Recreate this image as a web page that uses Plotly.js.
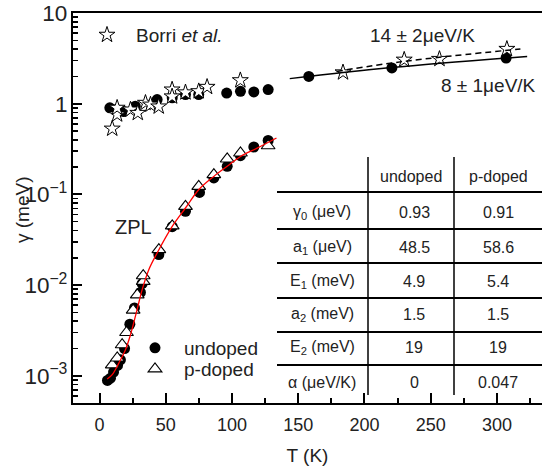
<!DOCTYPE html>
<html><head><meta charset="utf-8">
<script src="https://cdn.plot.ly/plotly-3.0.1.min.js"></script>
<style>body{margin:0;background:#fff}#c{width:542px;height:474px}</style>
</head><body><div id="c"></div>
<script>
// Borri et al. (open stars)
var borriT = [9.6, 13.3, 13.3, 23.4, 28.9, 34.7, 38.5, 44.7, 54.8, 54.8, 64.9, 74.9, 81.2, 106.3, 183.8, 230, 256.6, 307.5];
var borriG = [0.53, 0.76, 0.90, 0.86, 0.79, 1.02, 0.975, 0.93, 1.43, 1.20, 1.33, 1.37, 1.53, 1.81, 2.21, 3.05, 3.11, 4.01];
// undoped broad band (filled circles)
var broadT = [7.8, 12, 18.3, 27, 43.5, 54.9, 64.9, 74.9, 96, 106.4, 116.5, 127.3, 158, 220.7, 306.9];
var broadG = [0.90, 0.86, 0.82, 0.94, 1.11, 1.16, 1.26, 1.26, 1.31, 1.37, 1.35, 1.43, 2.0, 2.48, 3.19];
// ZPL undoped (filled circles)
var zplUT = [6, 8.3, 10.6, 13.6, 15.8, 18.9, 22.9, 26.4, 30.9, 32.2, 44.8, 54.9, 64.9, 75.5, 86.3, 96.4, 106.4, 116.5, 127.3];
var zplUG = [0.00089, 0.00094, 0.0011, 0.0013, 0.0015, 0.0020, 0.0037, 0.0056, 0.0083, 0.0104, 0.0217, 0.044, 0.065, 0.105, 0.152, 0.204, 0.267, 0.333, 0.394];
// ZPL p-doped (open triangles)
var zplPT = [9.6, 13.4, 17.1, 20.4, 25.4, 28.5, 33, 33, 44.8, 54.9, 64.9, 74.9, 86.3, 96.4, 106.4, 127.3];
var zplPG = [0.00132, 0.00157, 0.0022, 0.0030, 0.0053, 0.0078, 0.011, 0.0127, 0.0246, 0.045, 0.0738, 0.1225, 0.165, 0.246, 0.286, 0.344];
// ZPL fit curve (red)
var fitT = [5.8, 9.6, 14.6, 19.6, 23.4, 28, 32.2, 37.2, 43.5, 54.9, 64.9, 74.9, 86.3, 96.4, 106.4, 119, 133.6];
var fitG = [0.00092, 0.00103, 0.00138, 0.00194, 0.00284, 0.0051, 0.0089, 0.0148, 0.0226, 0.0444, 0.0708, 0.1127, 0.158, 0.204, 0.262, 0.324, 0.419];
// linear fits at high T
var fitSolidT = [143.6, 220, 322.8];
var fitSolidG = [1.89, 2.50, 3.32];
var fitDashT = [179, 230, 317.7];
var fitDashG = [2.27, 2.93, 4.01];
// table
var tableHeader = ['undoped', 'p-doped'];
var rowLabels = ['γ<sub>0</sub> (μeV)', 'a<sub>1</sub> (μeV)', 'E<sub>1</sub> (meV)', 'a<sub>2</sub> (meV)', 'E<sub>2</sub> (meV)', 'α (μeV/K)'];
var undopedVals = ['0.93', '48.5', '4.9', '1.5', '19', '0'];
var pdopedVals = ['0.91', '58.6', '5.4', '1.5', '19', '0.047'];

var W = 542, H = 474, mL = 73, mR = 0, mT = 13, mB = 71;
var pw = W - mL - mR, ph = H - mT - mB;
function px(x) { return (x - mL) / pw; }
function py(y) { return (H - mB - y) / ph; }

var FONT = 'Liberation Sans, Arial, sans-serif';
var TXT = '#222';

var traces = [
  {x: broadT.concat(zplUT), y: broadG.concat(zplUG), mode: 'markers', type: 'scatter', name: 'undoped',
   marker: {symbol: 'circle', size: 11, color: '#000'}, legend: 'legend2'},
  {x: zplPT, y: zplPG, mode: 'markers', type: 'scatter', name: 'p-doped',
   marker: {symbol: 'triangle-up', size: 12, color: '#fff', line: {color: '#000', width: 1.1}}, legend: 'legend3'},
  {x: borriT, y: borriG, mode: 'markers', type: 'scatter', name: 'Borri <i>et al.</i>',
   marker: {symbol: 'star', size: 12, color: '#fff', line: {color: '#000', width: 1}}, legend: 'legend'},
  {x: fitSolidT, y: fitSolidG, mode: 'lines', type: 'scatter', showlegend: false,
   line: {color: '#000', width: 1.5, shape: 'spline'}},
  {x: fitDashT, y: fitDashG, mode: 'lines', type: 'scatter', showlegend: false,
   line: {color: '#000', width: 1.5, dash: '6px,4px', shape: 'spline'}},
  {x: fitT, y: fitG, mode: 'lines', type: 'scatter', showlegend: false,
   line: {color: '#ff0000', width: 1.3, shape: 'spline'}}
];

var shapes = [];
var annotations = [];
// table geometry (pixels)
var tLeft = 277, tRight = 542, col1 = 368, col2 = 454, vTop = 157, vBot = 395;
var hLines = [192, 229, 263, 298, 332, 365];
var rowY = [213, 247, 281, 314, 347, 382];
var headY = 177;
hLines.forEach(function (y) {
  shapes.push({type: 'line', xref: 'paper', yref: 'paper', x0: px(tLeft), x1: px(tRight), y0: py(y), y1: py(y),
    line: {color: '#000', width: 2}});
});
[col1, col2].forEach(function (x) {
  shapes.push({type: 'line', xref: 'paper', yref: 'paper', x0: px(x), x1: px(x), y0: py(vTop), y1: py(vBot),
    line: {color: '#000', width: 1.5}});
});
function addText(t, x, y, size, anchor, angle) {
  annotations.push({text: t, xref: 'paper', yref: 'paper', x: px(x), y: py(y), xanchor: anchor || 'center', yanchor: 'middle',
    textangle: angle || 0, showarrow: false, font: {family: FONT, size: size, color: TXT}});
}
addText(tableHeader[0], 411, headY, 16);
addText(tableHeader[1], 498, headY, 16);
rowLabels.forEach(function (l, i) {
  addText(l, 322, rowY[i], 16);
  addText(undopedVals[i], 414, rowY[i], 16);
  addText(pdopedVals[i], 498, rowY[i], 16);
});
addText('ZPL', 133, 227, 20);
addText('14 ± 2μeV/K', 422, 35, 19);
addText('8 ± 1μeV/K', 488, 85, 19);
// y-axis title placed precisely
addText('γ (meV)', 22, 210, 19, 'center', -90);

function leg(x, y) {
  return {x: px(x), y: py(y), xanchor: 'left', yanchor: 'middle', bgcolor: 'rgba(0,0,0,0)',
    font: {size: 19, family: FONT, color: TXT}, itemwidth: 48};
}

var layout = {
  width: W, height: H,
  margin: {l: mL, r: mR, t: mT, b: mB},
  paper_bgcolor: '#fff', plot_bgcolor: '#fff',
  font: {family: FONT, color: TXT, size: 18},
  xaxis: {range: [-20, 334], tickvals: [0, 50, 100, 150, 200, 250, 300], ticks: 'inside', ticklen: 10, tickwidth: 2,
    tickcolor: '#000', showline: true, linewidth: 2, linecolor: '#000', mirror: true, showgrid: false, zeroline: false,
    minor: {tickvals: [25, 75, 125, 175, 225, 275, 325], ticks: 'inside', ticklen: 5, tickwidth: 2, tickcolor: '#000'},
    tickfont: {size: 18, family: FONT, color: TXT}, ticklabelstandoff: 4,
    title: {text: 'T (K)', font: {size: 19, family: FONT, color: TXT}, standoff: 15}},
  yaxis: {type: 'log', range: [-3.3, 1], dtick: 1, exponentformat: 'power', ticks: 'inside', ticklen: 9, tickwidth: 2,
    tickcolor: '#000', showline: true, linewidth: 2, linecolor: '#000', showgrid: false, zeroline: false,
    minor: {dtick: 'D1', ticks: 'inside', ticklen: 5, tickwidth: 1.5, tickcolor: '#000'},
    tickfont: {size: 18, family: FONT, color: TXT}},
  legend: leg(78, 35),
  legend2: leg(126, 348),
  legend3: leg(126, 369),
  shapes: shapes,
  annotations: annotations,
  showlegend: true
};
Plotly.newPlot('c', traces, layout, {displayModeBar: false, staticPlot: true});
</script>
</body></html>
